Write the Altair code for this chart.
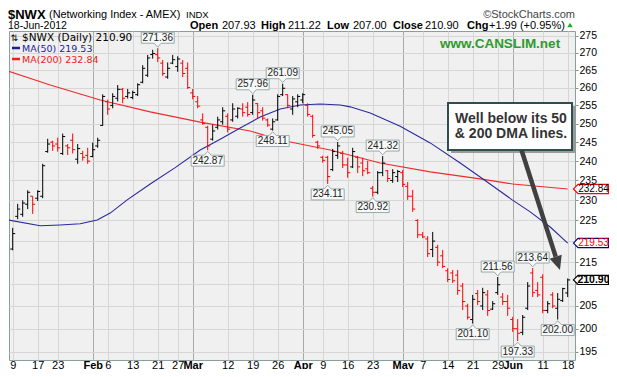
import altair as alt
import pandas as pd

# ---------------- data ----------------
opens = [218.1, 226.0, 226.5, 229.0, 231.0, 230.5, 231.0, 242.5, 245.0, 244.5,
         242.0, 244.0, 245.5, 240.5, 242.0, 241.5, 241.2, 244.0, 249.5, 256.0,
         255.0, 257.0, 259.5, 257.5, 257.2, 258.0, 261.5, 263.5, 269.5, 269.5,
         267.0, 263.0, 267.0, 266.0, 267.0, 265.5, 258.5, 256.0, 251.0, 249.0,
         245.8, 249.0, 250.5, 252.0, 251.0, 252.0, 254.0, 254.5, 253.0, 255.5,
         253.5, 251.0, 248.5, 251.0, 258.0, 258.0, 254.0, 256.0, 256.5, 255.0,
         252.0, 245.0, 241.0, 241.0, 237.8, 241.5, 242.0, 239.0, 238.5, 241.0,
         239.5, 238.0, 233.0, 232.0, 237.0, 237.5, 235.0, 236.0, 237.0, 233.5,
         231.0, 225.0, 221.5, 220.5, 218.0, 218.5, 216.5, 213.0, 212.5, 212.0,
         209.5, 205.0, 202.0, 207.8, 205.0, 207.5, 204.3, 208.0, 207.0, 206.0,
         202.0, 200.0, 199.2, 204.5, 212.5, 208.5, 211.5, 204.0, 207.5, 204.5,
         206.2, 207.93]
highs = [223.2, 229.1, 230.0, 232.5, 231.0, 232.5, 239.3, 245.9, 245.4, 246.2,
         247.3, 244.5, 247.3, 244.5, 242.7, 243.5, 244.9, 246.2, 258.1, 256.6,
         258.4, 260.7, 259.9, 259.6, 259.1, 261.2, 266.4, 269.4, 270.9, 271.36,
         267.9, 267.2, 269.4, 269.0, 267.9, 267.2, 259.6, 257.6, 252.8, 249.4,
         249.7, 251.9, 254.5, 252.8, 255.6, 254.5, 255.6, 255.9, 257.96, 255.6,
         254.5, 251.4, 251.4, 258.1, 261.09, 258.1, 257.6, 258.1, 258.4, 255.6,
         252.4, 245.4, 241.4, 241.4, 243.2, 245.05, 242.7, 240.9, 243.5, 241.4,
         240.9, 240.1, 233.6, 237.4, 241.32, 237.7, 237.9, 237.7, 237.7, 234.6,
         232.6, 225.3, 222.2, 221.2, 222.2, 219.1, 217.9, 213.6, 213.2, 213.2,
         210.2, 205.5, 207.5, 208.6, 209.1, 208.6, 206.1, 211.56, 207.9, 207.5,
         202.6, 202.1, 203.0, 210.4, 213.64, 210.4, 212.2, 206.1, 208.1, 207.9,
         209.1, 211.22]
lows = [217.8, 225.3, 225.9, 227.8, 226.6, 229.8, 230.5, 242.2, 242.7, 242.5,
        241.6, 241.6, 242.0, 239.3, 240.1, 239.3, 241.0, 243.5, 249.4, 252.4,
        254.2, 256.1, 255.6, 256.9, 256.7, 257.6, 261.2, 263.0, 268.3, 267.3,
        263.3, 262.5, 266.7, 264.5, 263.0, 259.6, 256.7, 254.2, 249.7, 242.87,
        245.4, 248.4, 249.7, 247.6, 250.5, 251.4, 251.9, 251.9, 252.4, 251.4,
        250.8, 249.1, 248.11, 250.8, 257.6, 254.2, 252.4, 254.5, 255.6, 251.9,
        246.2, 243.2, 239.6, 234.11, 237.4, 240.6, 238.2, 235.7, 238.2, 236.9,
        236.1, 236.6, 230.92, 231.5, 236.1, 234.6, 234.4, 234.6, 233.3, 230.1,
        227.1, 220.7, 220.7, 216.2, 216.2, 214.1, 213.6, 210.4, 210.2, 207.5,
        204.1, 202.0, 201.10, 205.2, 204.1, 202.8, 204.1, 207.5, 205.2, 202.8,
        199.3, 197.33, 198.6, 204.1, 207.0, 207.0, 203.4, 203.4, 204.5, 202.00,
        205.9, 207.00]
closes = [221.8, 227.8, 229.3, 232.0, 229.0, 232.2, 238.8, 244.5, 244.0, 243.5,
          246.5, 243.5, 243.0, 243.3, 241.0, 240.0, 243.0, 245.5, 257.5, 254.0,
          257.5, 259.5, 257.0, 258.5, 258.6, 260.8, 265.5, 268.5, 269.8, 268.5,
          264.0, 265.5, 268.0, 268.2, 264.0, 260.0, 257.5, 254.8, 250.0, 244.0,
          248.0, 251.0, 253.5, 248.5, 254.0, 254.2, 253.0, 252.5, 256.5, 253.0,
          251.5, 249.6, 250.5, 257.5, 259.8, 255.0, 256.8, 257.5, 258.0, 252.5,
          246.8, 244.0, 240.2, 236.0, 242.5, 244.0, 239.0, 237.0, 242.5, 238.5,
          237.5, 237.0, 232.0, 237.0, 239.5, 235.5, 237.0, 237.3, 234.0, 231.0,
          227.8, 221.5, 221.0, 217.0, 220.0, 215.0, 214.0, 211.0, 210.7, 208.5,
          206.0, 202.5, 206.5, 206.0, 208.0, 204.0, 205.5, 209.8, 206.0, 204.5,
          200.0, 199.0, 202.5, 209.5, 208.0, 207.5, 204.0, 205.5, 205.0, 206.5,
          208.91, 210.90]

ma50_idx = [-0.9, 5.5, 9.5, 13.5, 16.9, 19.5, 22.9, 27.5, 32.5, 37.5, 41.5, 45.5,
            49.5, 53.5, 57.5, 61.5, 65.5, 67.5, 71.5, 77.5, 83.5, 89.5, 94.9,
            99.9, 103.5, 107.5, 111]
ma50_val = [225.1, 223.7, 223.9, 224.2, 225.1, 226.8, 230.1, 234.1, 238.3, 242.9,
            245.8, 248.8, 251.8, 254.0, 255.1, 255.4, 255.1, 254.6, 252.9, 249.3,
            244.8, 239.5, 234.6, 230.1, 227.1, 223.4, 219.53]
ma200_idx = [-0.9, 7.5, 17.5, 27.5, 37.5, 47.5, 53.5, 63.5, 73.5, 83.5, 93.5, 100, 111]
ma200_val = [264.7, 260.7, 256.5, 253.2, 250.4, 248.0, 245.6, 242.9, 239.5, 237.2,
             235.4, 234.1, 232.84]

ann_idx = [29, 39, 48, 52, 54, 63, 65, 72, 74, 92, 97, 101, 104, 109]
ann_val = [271.36, 242.87, 257.96, 248.11, 261.09, 234.11, 245.05, 230.92, 241.32,
           201.10, 211.56, 197.33, 213.64, 202.00]
ann_pos = ["above", "below", "above", "below", "above", "below", "above", "below",
           "above", "below", "above", "below", "above", "below"]

xtick_idx = [0, 5, 9, 16, 19, 24, 29, 33, 36, 43, 48, 53, 58, 62, 67, 72, 78, 82,
             87, 92, 97, 100, 106, 111]
xtick_lbl = ["9", "17", "23", "Feb", "6", "13", "21", "27", "Mar", "12", "19", "26",
             "Apr", "9", "16", "23", "May", "7", "14", "21", "29", "Jun", "11", "18"]
month_idx = [16, 36, 58, 78, 100]
ytick_vals = [195, 200, 205, 210, 215, 220, 225, 230, 235, 240, 245, 250, 255, 260,
              265, 270, 275]
ytick_hidden = [210, 220]   # covered by the value boxes in the reference

# ---------------- tables ----------------
n = len(closes)
dirs = ["up"] + ["up" if closes[k] >= closes[k - 1] else "down" for k in range(1, n)]
bars = pd.DataFrame({"i": list(range(n)), "o": opens, "h": highs, "l": lows,
                     "c": closes, "d": dirs})
ma50 = pd.DataFrame({"i": ma50_idx, "v": ma50_val})
ma200 = pd.DataFrame({"i": ma200_idx, "v": ma200_val})
ann = pd.DataFrame({"i": ann_idx, "v": ann_val, "pos": ann_pos,
                    "t": [f"{v:.2f}" for v in ann_val]})
last = pd.DataFrame({"v": [ma200_val[-1], ma50_val[-1], closes[-1]],
                     "t": [f"{ma200_val[-1]:.2f}", f"{ma50_val[-1]:.2f}", f"{closes[-1]:.2f}"],
                     "k": ["ma200", "ma50", "px"]})

FONT = "Liberation Sans"
month_test = "indexof([" + ",".join(str(m) for m in month_idx) + "], datum.value) >= 0"
lab_expr = ("[" + ",".join(f"'{s}'" for s in xtick_lbl) + "][indexof(["
            + ",".join(str(v) for v in xtick_idx) + "], datum.value)]")
ylab_expr = ("indexof([" + ",".join(str(v) for v in ytick_hidden)
             + "], datum.value) >= 0 ? '' : datum.label")

xs = alt.Scale(domain=[-0.74, 112.46], nice=False, zero=False)
ys = alt.Scale(type="log", domain=[193.3, 276.5], nice=False, zero=False)

xaxis = alt.Axis(values=xtick_idx, labelExpr=lab_expr, title=None, grid=True,
                 gridColor={"condition": {"test": month_test, "value": "#A9A9A9"},
                            "value": "#D6D6D6"},
                 domain=False, ticks=False, tickSize=0, labelPadding=8,
                 labelBaseline="alphabetic",
                 labelFont=FONT, labelFontSize=11, labelColor="#000000",
                 labelFontWeight={"condition": {"test": month_test, "value": "bold"},
                                  "value": "normal"},
                 labelFlush=False, labelOverlap=False, labelBound=False)
yaxis = alt.Axis(orient="right", values=ytick_vals, title=None, grid=True,
                 gridColor="#D6D6D6", domain=False, tickSize=3, tickColor="#7F9696",
                 labelPadding=1, labelFont=FONT, labelFontSize=10.5, labelColor="#000000",
                 format="d", labelExpr=ylab_expr,
                 labelOverlap=False, labelFlush=False, labelBound=False)

X = alt.X("i:Q", scale=xs, axis=xaxis)
col = alt.Color("d:N", scale=alt.Scale(domain=["up", "down"], range=["#000000", "#FF0000"]),
                legend=None)

hl = alt.Chart(bars).mark_rule(strokeWidth=1).encode(
    x=X, y=alt.Y("l:Q", scale=ys, axis=yaxis), y2="h:Q", color=col)
op = alt.Chart(bars).mark_rule(strokeWidth=1, xOffset=-2.5, x2Offset=0).encode(
    x=X, x2="i:Q", y=alt.Y("o:Q", scale=ys, axis=yaxis), color=col)
cl = alt.Chart(bars).mark_rule(strokeWidth=1, xOffset=0, x2Offset=2.5).encode(
    x=X, x2="i:Q", y=alt.Y("c:Q", scale=ys, axis=yaxis), color=col)

l50 = alt.Chart(ma50).mark_line(color="#2A2A9C", strokeWidth=1.1, clip=True).encode(
    x=X, y=alt.Y("v:Q", scale=ys, axis=yaxis))
l200 = alt.Chart(ma200).mark_line(color="#EE2B2B", strokeWidth=1.1, clip=True).encode(
    x=X, y=alt.Y("v:Q", scale=ys, axis=yaxis))

up_path = "M-1.65,-1.6L1.65,-1.6L1.65,-0.5L0.35,-0.5L0,-0.12L-0.35,-0.5L-1.65,-0.5Z"
dn_path = "M-1.65,1.6L1.65,1.6L1.65,0.5L0.35,0.5L0,0.12L-0.35,0.5L-1.65,0.5Z"

def ann_layers(pos, path, dy):
    base = alt.Chart(ann).transform_filter(alt.datum.pos == pos)
    box = base.mark_point(shape=path, size=400, filled=True, fill="#F7F8F8",
                          stroke="#9AAAAA", strokeWidth=1, opacity=1).encode(
        x=X, y=alt.Y("v:Q", scale=ys, axis=yaxis))
    tx = base.mark_text(dy=dy, fontSize=10, font=FONT, color="#222222",
                        baseline="middle", align="center").encode(
        x=X, y=alt.Y("v:Q", scale=ys, axis=yaxis), text="t:N")
    return [box, tx]

# right-hand value boxes
lbl_path = "M0,0L0.45,-0.46L3.5,-0.46L3.5,0.46L0.45,0.46Z"
kcol = alt.Scale(domain=["ma200", "ma50", "px"], range=["#FF0000", "#000080", "#000000"])
rbox = alt.Chart(last).mark_point(shape=lbl_path, size=400, filled=True, fill="#FFFFFF",
                                  strokeWidth=1.2, opacity=1).encode(
    x=alt.value(564.5), y=alt.Y("v:Q", scale=ys, axis=yaxis),
    stroke=alt.Stroke("k:N", scale=kcol, legend=None))
rtxt = alt.Chart(last).transform_filter(alt.datum.k != "px").mark_text(
    fontSize=10, font=FONT, align="center", baseline="middle").encode(
    x=alt.value(584.5), y=alt.Y("v:Q", scale=ys, axis=yaxis), text="t:N",
    color=alt.Color("k:N", scale=kcol, legend=None))
rtxt2 = alt.Chart(last).transform_filter(alt.datum.k == "px").mark_text(
    fontSize=10.5, font=FONT, fontWeight="bold", align="center", baseline="middle",
    color="#000000").encode(
    x=alt.value(584.5), y=alt.Y("v:Q", scale=ys, axis=yaxis), text="t:N")

one = alt.Data(values=[{"k": 0}])

def txt(s, x, y, size=11, weight="normal", color="#000000", align="left",
        font=FONT, baseline="alphabetic"):
    return alt.Chart(one).mark_text(text=s, fontSize=size, fontWeight=weight, color=color,
                                    align=align, baseline=baseline, font=font).encode(
        x=alt.value(x), y=alt.value(y))

chg = closes[-1] - closes[-2]
pct = chg / closes[-2] * 100
header = [
    txt("$NWX", -1, -12, size=13, weight="bold"),
    txt("(Networking Index - AMEX)", 40, -13, size=10.9),
    txt("INDX", 177, -13, size=9.5),
    txt("18-Jun-2012", -1, -2, size=10.5),
    txt("©StockCharts.com", 566, -13.5, size=11, color="#444444", align="right"),
    txt("Open", 181, -2.5, weight="bold"), txt(f"{opens[-1]:.2f}", 213, -2.5),
    txt("High", 252, -2.5, weight="bold"), txt(f"{highs[-1]:.2f}", 279, -2.5),
    txt("Low", 318, -2.5, weight="bold"), txt(f"{lows[-1]:.2f}", 344, -2.5),
    txt("Close", 384, -2.5, weight="bold"), txt(f"{closes[-1]:.2f}", 416, -2.5),
    txt("Chg", 458, -2.5, weight="bold"), txt(f"{chg:+.2f} ({pct:+.2f}%)", 480, -2.5),
]
tri = alt.Chart(one).mark_point(shape="triangle-up", size=30, filled=True, color="#22AA22",
                                opacity=1).encode(x=alt.value(561), y=alt.value(-6))

legend = [
    txt("⇅", 1.5, 9.5, size=9, font="DejaVu Sans"),
    txt(f"$NWX (Daily) {closes[-1]:.2f}", 13, 9.5, size=10.5, font="DejaVu Sans"),
    txt(f"MA(50) {ma50_val[-1]:.2f}", 13, 20.5, size=9.5, font="DejaVu Sans", color="#1E1E96"),
    txt(f"MA(200) {ma200_val[-1]:.2f}", 13, 31.5, size=9.5, font="DejaVu Sans", color="#EE2020"),
    alt.Chart(one).mark_rule(color="#1E1E96", strokeWidth=2.5).encode(
        x=alt.value(3), x2=alt.value(11), y=alt.value(17)),
    alt.Chart(one).mark_rule(color="#EE2020", strokeWidth=2.5).encode(
        x=alt.value(3), x2=alt.value(11), y=alt.value(28)),
    txt("www.CANSLIM.net", 491, 17, size=13.5, weight="bold", color="#2E9B2E",
        align="center"),
]

note = [
    alt.Chart(one).mark_rect(color="#9A9A9A").encode(
        x=alt.value(442), x2=alt.value(566), y=alt.value(75), y2=alt.value(122)),
    alt.Chart(one).mark_rect(fill="#FFFFFF", stroke="#2F4F4F", strokeWidth=2).encode(
        x=alt.value(439), x2=alt.value(563), y=alt.value(72), y2=alt.value(119)),
    txt("Well below its 50", 502, 91.5, size=14, weight="bold", color="#333333",
        align="center"),
    txt("& 200 DMA lines.", 502, 107, size=14, weight="bold", color="#333333",
        align="center"),
    alt.Chart(one).mark_rule(color="#404040", strokeWidth=4.5).encode(
        x=alt.value(512.5), y=alt.value(119), x2=alt.value(546.7), y2=alt.value(225.7)),
    alt.Chart(one).mark_point(shape="M-0.45,0L0.45,0L0,1Z", size=784, filled=True,
                              color="#404040", opacity=1, angle=342.2).encode(
        x=alt.value(546.7), y=alt.value(225.7)),
]

layers = [l200, l50, hl, op, cl] + ann_layers("above", up_path, -10.5) \
    + ann_layers("below", dn_path, 10.5) + [rbox, rtxt, rtxt2] + header + [tri] \
    + legend + note

chart = alt.layer(*layers).properties(
    width=566, height=329,
    padding={"left": 1, "top": 23, "right": 34, "bottom": 9},
    autosize=alt.AutoSizeParams(type="none"),
    background="#FFFFFF",
).configure_view(stroke="#8A9E9E", strokeWidth=1, fill="#F0F0F0")

chart.save("out.html", embed_options={"renderer": "svg", "actions": False})
